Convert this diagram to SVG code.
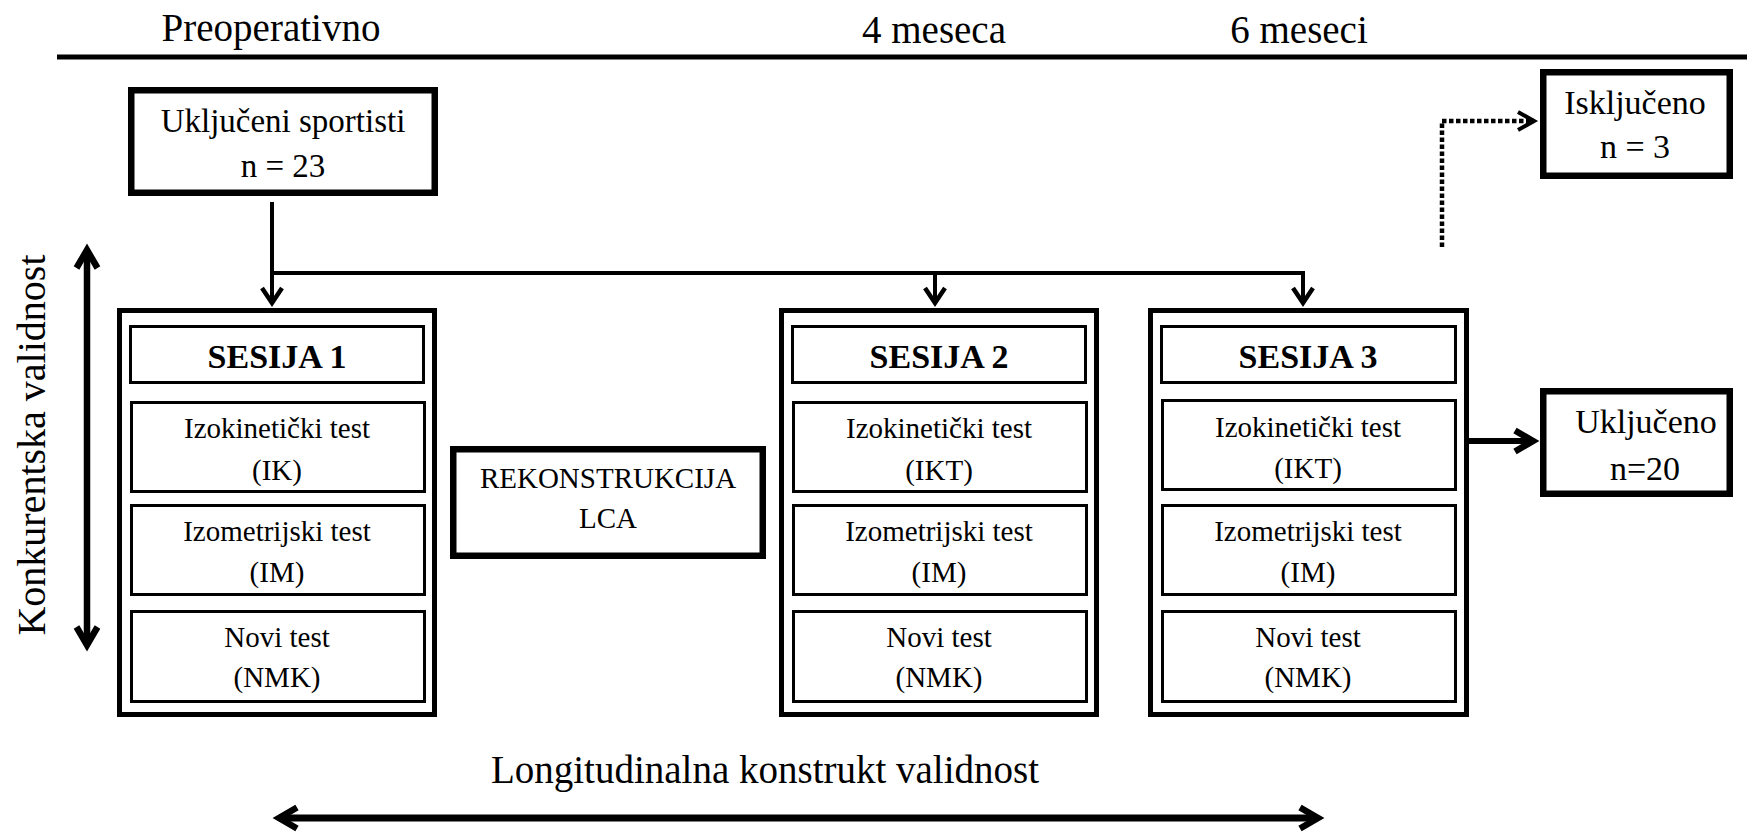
<svg xmlns="http://www.w3.org/2000/svg" width="1747" height="834" viewBox="0 0 1747 834">
<style>
.t{font-family:"Liberation Serif","Times New Roman",serif;fill:#000;text-anchor:middle}
.top{font-size:39px}
.box{fill:#fff;stroke:#000;stroke-width:6.5}
.outer{fill:#fff;stroke:#000;stroke-width:5}
.inner{fill:#fff;stroke:#000;stroke-width:3}
.hdr{font-size:34px;font-weight:bold}
.tst{font-size:29px}
.nb{font-size:33px}
.con{fill:none;stroke:#000}
</style>
<defs>
<marker id="ahs" markerUnits="userSpaceOnUse" markerWidth="40" markerHeight="40" viewBox="-20 -20 40 40" refX="0" refY="0" orient="auto-start-reverse" overflow="visible">
<path d="M-15,-10 L0,0 L-15,10" fill="none" stroke="#000" stroke-width="4.5"/>
</marker>
<marker id="ahl" markerUnits="userSpaceOnUse" markerWidth="50" markerHeight="50" viewBox="-25 -25 50 50" refX="0" refY="0" orient="auto-start-reverse" overflow="visible">
<path d="M-18,-10.5 L0,0 L-18,10.5" fill="none" stroke="#000" stroke-width="6.5"/>
</marker>
<marker id="ahd" markerUnits="userSpaceOnUse" markerWidth="40" markerHeight="40" viewBox="-20 -20 40 40" refX="0" refY="0" orient="auto" overflow="visible">
<path d="M-16,-9 L0,0 L-16,9" fill="none" stroke="#000" stroke-width="4"/>
</marker>
</defs>
<rect width="1747" height="834" fill="#fff"/>

<g id="timeline">
<line x1="57" y1="57" x2="1747" y2="57" stroke="#000" stroke-width="5"/>
<text class="t top" x="271" y="41">Preoperativno</text>
<text class="t top" x="934" y="43">4 meseca</text>
<text class="t top" x="1299" y="43">6 meseci</text>
</g>

<g id="ukljuceni">
<rect class="box" x="131.25" y="90.25" width="303.5" height="102.5"/>
<text class="t nb" x="283" y="132">Uključeni sportisti</text>
<text class="t nb" x="283" y="177">n = 23</text>
</g>

<g id="iskljuceno">
<rect class="box" x="1543.25" y="72.25" width="186.5" height="103.5"/>
<text class="t nb" x="1635" y="114" style="font-size:34px">Isključeno</text>
<text class="t nb" x="1635" y="158" style="font-size:34px">n = 3</text>
</g>

<g id="ukljuceno">
<rect class="box" x="1543.25" y="391.25" width="186.5" height="102.5"/>
<text class="t nb" x="1646" y="433" style="font-size:34px">Uključeno</text>
<text class="t nb" x="1645" y="480" style="font-size:34px">n=20</text>
</g>

<g id="rekonstrukcija">
<rect class="box" x="453.25" y="449.25" width="309.5" height="106.5"/>
<text class="t tst" x="608" y="488">REKONSTRUKCIJA</text>
<text class="t tst" x="608" y="528">LCA</text>
</g>

<g id="sesija1" transform="translate(117,0)">
<rect class="outer" x="2.5" y="310.5" width="315" height="404"/>
<rect class="inner" x="13.5" y="326.5" width="293" height="56"/>
<rect class="inner" x="14.5" y="402.5" width="293" height="89"/>
<rect class="inner" x="14.5" y="505.5" width="293" height="89"/>
<rect class="inner" x="14.5" y="611.5" width="293" height="90"/>
<text class="t hdr" x="160" y="368">SESIJA 1</text>
<text class="t tst" x="160" y="438">Izokinetički test</text>
<text class="t tst" x="160" y="480">(IK)</text>
<text class="t tst" x="160" y="541">Izometrijski test</text>
<text class="t tst" x="160" y="582">(IM)</text>
<text class="t tst" x="160" y="647">Novi test</text>
<text class="t tst" x="160" y="687">(NMK)</text>
</g>

<g id="sesija2" transform="translate(779,0)">
<rect class="outer" x="2.5" y="310.5" width="315" height="404"/>
<rect class="inner" x="13.5" y="326.5" width="293" height="56"/>
<rect class="inner" x="14.5" y="402.5" width="293" height="89"/>
<rect class="inner" x="14.5" y="505.5" width="293" height="89"/>
<rect class="inner" x="14.5" y="611.5" width="293" height="90"/>
<text class="t hdr" x="160" y="368">SESIJA 2</text>
<text class="t tst" x="160" y="438">Izokinetički test</text>
<text class="t tst" x="160" y="480">(IKT)</text>
<text class="t tst" x="160" y="541">Izometrijski test</text>
<text class="t tst" x="160" y="582">(IM)</text>
<text class="t tst" x="160" y="647">Novi test</text>
<text class="t tst" x="160" y="687">(NMK)</text>
</g>

<g id="sesija3" transform="translate(1148,0)">
<rect class="outer" x="2.5" y="310.5" width="316" height="404"/>
<rect class="inner" x="13.5" y="326.5" width="294" height="56"/>
<rect class="inner" x="14.5" y="400.5" width="293" height="89"/>
<rect class="inner" x="14.5" y="505.5" width="293" height="89"/>
<rect class="inner" x="14.5" y="611.5" width="293" height="90"/>
<text class="t hdr" x="160" y="368">SESIJA 3</text>
<text class="t tst" x="160" y="437">Izokinetički test</text>
<text class="t tst" x="160" y="478">(IKT)</text>
<text class="t tst" x="160" y="541">Izometrijski test</text>
<text class="t tst" x="160" y="582">(IM)</text>
<text class="t tst" x="160" y="647">Novi test</text>
<text class="t tst" x="160" y="687">(NMK)</text>
</g>

<g id="labels">
<text class="t" transform="translate(45,445) rotate(-90)" style="font-size:40px">Konkurentska validnost</text>
<text class="t" x="765" y="783" style="font-size:39px">Longitudinalna konstrukt validnost</text>
</g>

<g id="connectors">
<path class="con" stroke-width="4" d="M272,202 V303" marker-end="url(#ahs)"/>
<path class="con" stroke-width="4" d="M272,273 H1303 V303" marker-end="url(#ahs)"/>
<path class="con" stroke-width="4" d="M935,273 V303" marker-end="url(#ahs)"/>
<path class="con" stroke-width="6.5" d="M87,250 V645" marker-start="url(#ahl)" marker-end="url(#ahl)"/>
<path class="con" stroke-width="7" d="M279,818 H1318" marker-start="url(#ahl)" marker-end="url(#ahl)"/>
<path class="con" stroke-width="6" d="M1469,441 H1533" marker-end="url(#ahl)"/>
<path class="con" stroke-width="4.5" stroke-dasharray="4.5 2.5" d="M1442,247 V121 H1534" marker-end="url(#ahd)"/>
</g>
</svg>
